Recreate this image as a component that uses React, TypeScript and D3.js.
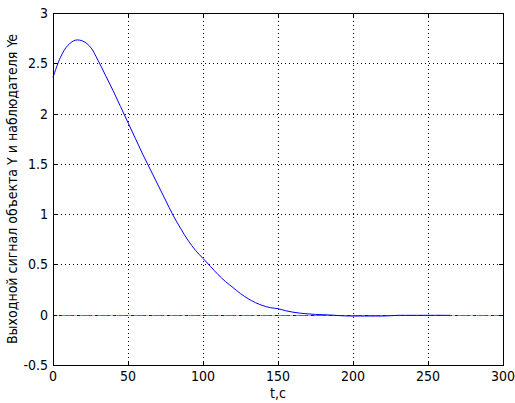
import React from "react";
import * as d3 from "d3";

const tValues = [0, 5, 10, 15, 20, 25, 30, 35, 40, 45, 50, 55, 60, 65, 70, 75, 80, 85, 90, 95, 100, 105, 110, 115, 120, 125, 130, 135, 140, 145, 150, 155, 160, 165, 170, 175, 180, 185, 190, 195, 200, 205, 210, 215, 220, 225, 230, 235, 240, 245, 250, 255, 260, 265];
const yValues = [2.36, 2.56, 2.68, 2.73, 2.72, 2.66, 2.53, 2.38, 2.23, 2.07, 1.91, 1.75, 1.59, 1.44, 1.29, 1.14, 0.99, 0.86, 0.74, 0.64, 0.56, 0.48, 0.4, 0.33, 0.27, 0.21, 0.16, 0.12, 0.09, 0.07, 0.06, 0.04, 0.025, 0.015, 0.008, 0.003, 0, -0.003, -0.008, -0.012, -0.013, -0.013, -0.013, -0.013, -0.013, -0.01, -0.006, -0.006, -0.006, -0.006, -0.006, -0.006, -0.006, -0.006];
const zeroLineColors = ["#ff0000", "#00c000", "#ff00ff", "#00c0c0", "#0000ff", "#e0c000"];
const xTicks = [0, 50, 100, 150, 200, 250, 300];
const yTicks = [-0.5, 0, 0.5, 1, 1.5, 2, 2.5, 3];
const yLabel = "Выходной сигнал объекта Y и наблюдателя Ye";
const xLabel = "t,c";

export default function App() {
  const W = 515, H = 403;
  const left = 53, right = 503, top = 13, bottom = 365;
  const x = d3.scaleLinear().domain([0, 300]).range([left, right]);
  const y = d3.scaleLinear().domain([-0.5, 3]).range([bottom, top]);
  const line = d3.line<number>().x((_, i) => x(tValues[i])).y((d) => y(d)).curve(d3.curveCatmullRom);
  const font = "'Liberation Sans Narrow', 'Arial Narrow', 'DejaVu Sans Condensed', sans-serif";
  const n = zeroLineColors.length;
  return (
    <svg width={W} height={H} style={{ position: "absolute", left: 0, top: 0, background: "#fff" }}>
      <rect x={0} y={0} width={W} height={H} fill="#fff" />
      {xTicks.slice(1, -1).map((t) => (
        <line key={"gx" + t} x1={x(t) + 0.5} x2={x(t) + 0.5} y1={top} y2={bottom} stroke="#000" strokeDasharray="1,3" />
      ))}
      {yTicks.slice(1, -1).map((t) => (
        <line key={"gy" + t} x1={left} x2={right} y1={Math.round(y(t)) + 0.5} y2={Math.round(y(t)) + 0.5} stroke="#000" strokeDasharray="1,3" />
      ))}
      {zeroLineColors.map((c, i) => (
        <line key={"z" + c} x1={left} x2={right} y1={Math.round(y(0)) + 0.5} y2={Math.round(y(0)) + 0.5} stroke={c} shapeRendering="crispEdges" strokeDasharray={`3,${3 * (n - 1)}`} strokeDashoffset={i * 3} />
      ))}
      <path d={line(yValues) || ""} fill="none" stroke="#0000ff" strokeWidth={1} />
      <rect x={left + 0.5} y={top + 0.5} width={right - left} height={bottom - top} fill="none" stroke="#000" />
      {xTicks.map((t) => (
        <g key={"tx" + t}>
          <line x1={x(t) + 0.5} x2={x(t) + 0.5} y1={bottom} y2={bottom - 4} stroke="#000" />
          <line x1={x(t) + 0.5} x2={x(t) + 0.5} y1={top} y2={top + 4} stroke="#000" />
          <text x={x(t)} y={381} fontSize={14} fontFamily={font} textAnchor="middle">{t}</text>
        </g>
      ))}
      {yTicks.map((t) => (
        <g key={"ty" + t}>
          <line x1={left} x2={left + 4} y1={Math.round(y(t)) + 0.5} y2={Math.round(y(t)) + 0.5} stroke="#000" />
          <line x1={right - 4} x2={right} y1={Math.round(y(t)) + 0.5} y2={Math.round(y(t)) + 0.5} stroke="#000" />
          <text x={48} y={y(t) + 5} fontSize={14} fontFamily={font} textAnchor="end">{t}</text>
        </g>
      ))}
      <text x={278} y={398} fontSize={14} fontFamily={font} textAnchor="middle">{xLabel}</text>
      <text transform={`translate(17,${(top + bottom) / 2}) rotate(-90)`} fontSize={14} fontFamily={font} textAnchor="middle">{yLabel}</text>
    </svg>
  );
}
